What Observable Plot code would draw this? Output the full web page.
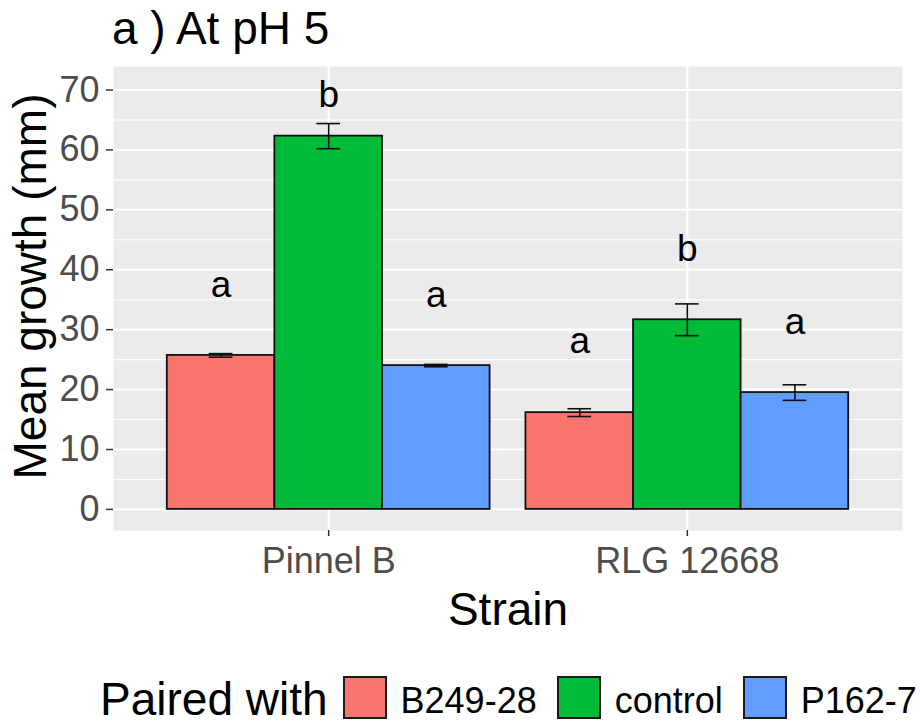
<!DOCTYPE html>
<html>
<head>
<meta charset="utf-8">
<script src="https://cdn.jsdelivr.net/npm/d3@7"></script>
<script src="https://cdn.jsdelivr.net/npm/@observablehq/plot@0.6"></script>
<style>
  body { margin: 0; background: #fff; font-family: "Liberation Sans", Arial, sans-serif; }
  #title { height: 56px; line-height: 56px; font-size: 46px; padding-left: 112px; white-space: pre; color: #000; }
  #chart svg { display: block; }
  #legend { height: 84px; box-sizing: border-box; padding-top: 31px; padding-left: 100px;
            display: flex; align-items: center; color: #000; white-space: nowrap; }
  #legend > * { flex-shrink: 0; }
  #legend .ttl { font-size: 46px; line-height: 1; position: relative; top: 1px; margin-right: 15px; white-space: pre; }
  #legend .key { box-sizing: border-box; width: 44px; height: 43px; border: 2px solid #1a1a1a; margin-right: 14px; }
  #legend .lab { font-size: 36px; line-height: 1; position: relative; top: 3px; margin-right: 20px; white-space: nowrap; }
</style>
</head>
<body>
<div id="title">a ) At pH 5</div>
<div id="chart"></div>
<div id="legend"></div>
<script>
// Strains on the x axis and the partner each was paired with
const strains = ["Pinnel B", "RLG 12668"];
const partners = ["B249-28", "control", "P162-7"];
const partnerColors = ["#F8766D", "#00BA38", "#619CFF"];

// Mean growth (mm) and standard error, one row per strain, columns follow partners
const meanGrowth = [
  [25.7, 62.3, 24.0],
  [16.15, 31.65, 19.5]
];
const stdError = [
  [0.3, 2.1, 0.2],
  [0.65, 2.65, 1.3]
];

// Significance letters and the height (mm) they are printed at
const groupLetters = [
  ["a", "b", "a"],
  ["a", "b", "a"]
];
const letterHeight = [
  [37.4, 69.1, 35.7],
  [28.0, 43.5, 31.3]
];

// Axis ticks
const yMajor = [0, 10, 20, 30, 40, 50, 60, 70];
const yMinor = [5, 15, 25, 35, 45, 55, 65];
const xTicks = [1, 2];

// Dodged positions: each strain sits at 1, 2; bars are 0.3 wide inside a 0.9 group
const barWidth = 0.3;
const capHalf = 0.033;
const rows = [];
strains.forEach((strain, i) => {
  partners.forEach((partner, j) => {
    rows.push({
      strain,
      partner,
      pos: i + 1 + (j - 1) * barWidth,
      mean: meanGrowth[i][j],
      se: stdError[i][j],
      letter: groupLetters[i][j],
      letterY: letterHeight[i][j]
    });
  });
});

const font = "'Liberation Sans', Arial, sans-serif";

const chart = Plot.plot({
  width: 920,
  height: 584,
  marginLeft: 113,
  marginRight: 18,
  marginTop: 10,
  marginBottom: 110,
  style: { fontFamily: font, background: "white", overflow: "visible" },
  x: { domain: [0.4, 2.6], axis: null },
  y: { domain: [-3.52, 73.92], axis: null },
  color: { domain: partners, range: partnerColors },
  marks: [
    Plot.frame({ fill: "#EBEBEB", stroke: null }),
    Plot.ruleY(yMinor, { stroke: "white", strokeWidth: 1.1 }),
    Plot.ruleY(yMajor, { stroke: "white", strokeWidth: 2.1 }),
    Plot.ruleX(xTicks, { stroke: "white", strokeWidth: 2.1 }),
    Plot.rect(rows, {
      x1: d => d.pos - barWidth / 2,
      x2: d => d.pos + barWidth / 2,
      y1: 0,
      y2: "mean",
      fill: "partner",
      stroke: "#111",
      strokeWidth: 1.8
    }),
    Plot.ruleX(rows, { x: "pos", y1: d => d.mean - d.se, y2: d => d.mean + d.se, stroke: "#111", strokeWidth: 1.6 }),
    Plot.ruleY(rows, { y: d => d.mean - d.se, x1: d => d.pos - capHalf, x2: d => d.pos + capHalf, stroke: "#111", strokeWidth: 1.6 }),
    Plot.ruleY(rows, { y: d => d.mean + d.se, x1: d => d.pos - capHalf, x2: d => d.pos + capHalf, stroke: "#111", strokeWidth: 1.6 }),
    Plot.text(rows, { x: "pos", y: "letterY", text: "letter", fontSize: 37, fill: "#000" }),
    Plot.axisY({
      ticks: yMajor, tickSize: 7, tickPadding: 7, fontSize: 36,
      stroke: "#333", fill: "#4D4D4D", strokeWidth: 1.5, label: null
    }),
    Plot.axisX({
      ticks: xTicks, tickFormat: t => strains[t - 1], tickSize: 6, tickPadding: 11, fontSize: 36,
      stroke: "#333", fill: "#4D4D4D", strokeWidth: 1.5, label: null
    }),
    Plot.text(["Strain"], {
      frameAnchor: "bottom", lineAnchor: "middle", textAnchor: "middle",
      dy: 80, fontSize: 46, fill: "#000"
    }),
    Plot.text(["Mean growth (mm)"], {
      frameAnchor: "left", lineAnchor: "middle", textAnchor: "middle", rotate: -90,
      dx: -82.5, dy: -12, fontSize: 46, fill: "#000"
    })
  ]
});
document.getElementById("chart").appendChild(chart);

// Legend row under the chart
const legend = document.getElementById("legend");
const ttl = document.createElement("span");
ttl.className = "ttl";
ttl.textContent = "Paired with";
legend.appendChild(ttl);
partners.forEach((p, j) => {
  const key = document.createElement("div");
  key.className = "key";
  key.style.background = partnerColors[j];
  legend.appendChild(key);
  const lab = document.createElement("span");
  lab.className = "lab";
  lab.textContent = p;
  legend.appendChild(lab);
});
</script>
</body>
</html>
